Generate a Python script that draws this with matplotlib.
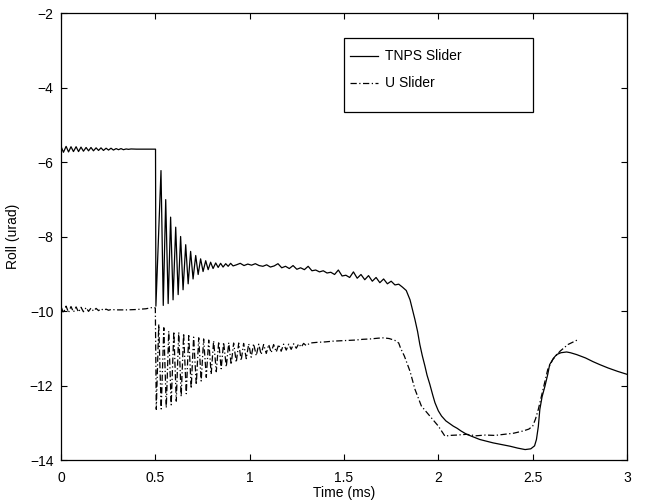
import matplotlib
matplotlib.use("Agg")
import matplotlib.pyplot as plt
from matplotlib.patches import Rectangle
from matplotlib.lines import Line2D

plt.rcParams['font.family'] = ['Liberation Sans', 'DejaVu Sans']

# ---------------- data ----------------
tnps_t = [
    0.000, 0.013, 0.027, 0.040, 0.053, 0.066, 0.080, 0.093, 0.106, 0.119,
    0.133, 0.146, 0.159, 0.172, 0.186, 0.199, 0.212, 0.225, 0.239, 0.252,
    0.265, 0.278, 0.292, 0.305, 0.318, 0.331, 0.345, 0.358, 0.371, 0.400,
    0.450, 0.501,
    0.503, 0.530, 0.542, 0.555, 0.568, 0.581, 0.594, 0.608, 0.621, 0.634,
    0.647, 0.661, 0.674, 0.687, 0.700, 0.714, 0.727, 0.740, 0.753, 0.767,
    0.780, 0.793, 0.806, 0.820, 0.833, 0.846, 0.859, 0.873, 0.886, 0.899,
    0.912,
    0.93, 0.95, 0.97, 0.99, 1.01, 1.03, 1.05, 1.07, 1.09, 1.11, 1.13, 1.15,
    1.17, 1.19, 1.21, 1.23, 1.25, 1.27, 1.29, 1.31, 1.33, 1.35, 1.37, 1.39,
    1.41, 1.43, 1.45, 1.47, 1.49, 1.51, 1.53, 1.55, 1.57, 1.59, 1.61, 1.63,
    1.65, 1.67, 1.69, 1.71, 1.73, 1.75, 1.77, 1.79,
    1.81, 1.83, 1.85, 1.86, 1.876, 1.89, 1.902, 1.915, 1.929, 1.94, 1.955,
    1.97, 1.982, 2.00, 2.017, 2.04, 2.06, 2.079, 2.10, 2.12, 2.15, 2.18,
    2.22, 2.26, 2.29, 2.33, 2.38, 2.42, 2.46, 2.49, 2.51, 2.52, 2.53, 2.538,
    2.55, 2.565, 2.58, 2.59, 2.61, 2.627, 2.65, 2.68, 2.70, 2.733, 2.78,
    2.82, 2.856, 2.90, 2.95, 3.00,
]
tnps_v = [
    -5.58, -5.74, -5.58, -5.73, -5.59, -5.72, -5.59, -5.72, -5.60, -5.71,
    -5.61, -5.70, -5.61, -5.70, -5.62, -5.69, -5.62, -5.69, -5.63, -5.68,
    -5.63, -5.68, -5.64, -5.67, -5.64, -5.67, -5.65, -5.66, -5.65, -5.655,
    -5.655, -5.655,
    -9.87, -6.23, -9.85, -7.01, -9.80, -7.48, -9.70, -7.75, -9.56, -8.00,
    -9.43, -8.22, -9.27, -8.40, -9.14, -8.51, -9.02, -8.60, -8.94, -8.65,
    -8.89, -8.69, -8.86, -8.71, -8.83, -8.72, -8.82, -8.73, -8.80, -8.72,
    -8.79,
    -8.76, -8.72, -8.78, -8.74, -8.77, -8.73, -8.78, -8.80, -8.76, -8.82,
    -8.79, -8.73, -8.84, -8.80, -8.86, -8.78, -8.88, -8.84, -8.89, -8.80,
    -8.92, -8.90, -8.95, -8.92, -8.98, -8.96, -9.02, -8.90, -9.06, -9.04,
    -9.10, -8.95, -9.12, -9.02, -9.16, -9.05, -9.20, -9.10, -9.24, -9.14,
    -9.27, -9.20, -9.30, -9.28,
    -9.36, -9.45, -9.70, -9.90, -10.23, -10.55, -10.90, -11.20, -11.48,
    -11.72, -11.97, -12.25, -12.46, -12.68, -12.82, -12.95, -13.02, -13.09,
    -13.15, -13.22, -13.31, -13.37, -13.45, -13.50, -13.54, -13.58, -13.63,
    -13.68, -13.72, -13.70, -13.62, -13.45, -13.10, -12.64, -12.30, -12.02,
    -11.70, -11.44, -11.27, -11.17, -11.12, -11.10, -11.12, -11.17, -11.26,
    -11.36, -11.44, -11.53, -11.62, -11.70,
]

u_t = [
    0.000, 0.013, 0.027, 0.040, 0.053, 0.066, 0.080, 0.093, 0.106, 0.119,
    0.133, 0.146, 0.159, 0.172, 0.186, 0.199, 0.212, 0.225, 0.239, 0.252,
    0.265, 0.300, 0.350, 0.400, 0.450, 0.490, 0.500,
    0.505, 0.518, 0.531, 0.545, 0.558, 0.571, 0.584, 0.598, 0.611, 0.624,
    0.637, 0.650, 0.664, 0.677, 0.690, 0.703, 0.717, 0.730, 0.743, 0.756,
    0.770, 0.783, 0.796, 0.809, 0.823, 0.836, 0.849, 0.862, 0.876, 0.889,
    0.902, 0.915, 0.929, 0.942, 0.955, 0.968, 0.982, 0.995, 1.008, 1.021,
    1.035, 1.048, 1.061, 1.074, 1.088, 1.101, 1.114, 1.127, 1.141, 1.154,
    1.167, 1.180, 1.194, 1.207, 1.220, 1.233, 1.247, 1.260, 1.273, 1.286,
    1.300,
    1.32, 1.36, 1.40, 1.44, 1.48, 1.52, 1.56, 1.60, 1.64, 1.68, 1.71, 1.74,
    1.77, 1.79,
    1.80, 1.82, 1.85, 1.876, 1.91, 1.955, 2.00, 2.035, 2.06, 2.10, 2.15,
    2.20, 2.25, 2.30, 2.35, 2.40, 2.45, 2.48, 2.50, 2.515, 2.53, 2.555,
    2.58, 2.607, 2.645, 2.687, 2.74,
]
u_v = [
    -9.88, -10.05, -9.87, -10.04, -9.88, -10.03, -9.89, -10.03, -9.90, -10.02,
    -9.91, -10.01, -9.92, -10.00, -9.93, -9.99, -9.94, -9.98, -9.95, -9.98,
    -9.96, -9.97, -9.97, -9.96, -9.94, -9.90, -9.92,
    -12.64, -10.36, -12.63, -10.45, -12.60, -10.54, -12.52, -10.55, -12.42,
    -10.57, -12.30, -10.60, -12.22, -10.66, -12.08, -10.70, -11.98, -10.72,
    -11.88, -10.75, -11.78, -10.78, -11.70, -10.80, -11.63, -10.82, -11.55,
    -10.84, -11.50, -10.85, -11.44, -10.86, -11.38, -10.86, -11.33, -10.87,
    -11.28, -10.88, -11.24, -10.88, -11.20, -10.89, -11.17, -10.90, -11.14,
    -10.90, -11.12, -10.90, -11.10, -10.90, -11.08, -10.89, -11.05, -10.89,
    -11.03, -10.88, -11.00, -10.88, -10.97, -10.87, -10.93,
    -10.86, -10.84, -10.83, -10.81, -10.80, -10.79, -10.78, -10.76, -10.75,
    -10.73, -10.72, -10.74, -10.79, -10.86,
    -11.00, -11.21, -11.62, -12.10, -12.55, -12.82, -13.09, -13.36, -13.34,
    -13.33, -13.31, -13.35, -13.33, -13.34, -13.31, -13.28, -13.22, -13.17,
    -13.09, -12.90, -12.64, -12.10, -11.57, -11.30, -11.08, -10.90, -10.77,
]

series_labels = ["TNPS Slider", "U Slider"]
x_ticks = [0, 0.5, 1, 1.5, 2, 2.5, 3]
x_tick_labels = ["0", "0.5", "1", "1.5", "2", "2.5", "3"]
y_ticks = [-14, -12, -10, -8, -6, -4, -2]
y_tick_labels = ["\u221214", "\u221212", "\u221210", "\u22128", "\u22126", "\u22124", "\u22122"]

# ---------------- figure ----------------
fig = plt.figure(figsize=(6.45, 5.04), dpi=100)
ax = fig.add_axes([61/645, 44/504, 566/645, 447/504])

LW = 0.9
DASH = (5, 2, 1, 2)
ax.plot(tnps_t, tnps_v, color='black', lw=LW, label=series_labels[0])
ax.plot(u_t, u_v, color='black', lw=LW, dashes=DASH, label=series_labels[1])

ax.set_xlim(0, 3)
ax.set_ylim(-14, -2)
ax.set_xticks(x_ticks)
ax.set_xticklabels(x_tick_labels)
ax.set_yticks(y_ticks)
ax.set_yticklabels(y_tick_labels)
ax.tick_params(direction='in', top=True, right=True, length=4.5, width=0.8,
               labelsize=10)
ax.tick_params(axis='x', pad=8)
ax.tick_params(axis='y', pad=5.5)
for s in ax.spines.values():
    s.set_linewidth(0.9)

ax.set_xlabel("Time (ms)", fontsize=10, labelpad=1)
ax.set_ylabel("Roll (urad)", fontsize=10, labelpad=7)

# legend box drawn in axes fraction coordinates (MATLAB-style)
tr = ax.transAxes
ax.add_patch(Rectangle((0.500, 0.779), 0.334, 0.165, transform=tr,
                       facecolor='white', edgecolor='black', lw=0.9,
                       zorder=5))
ax.add_line(Line2D([0.511, 0.560], [0.904, 0.904], transform=tr,
                   color='black', lw=LW, zorder=6))
ax.add_line(Line2D([0.511, 0.560], [0.843, 0.843], transform=tr,
                   color='black', lw=LW, dashes=DASH, zorder=6))
ax.text(0.572, 0.904, series_labels[0], transform=tr, fontsize=10,
        va='center', ha='left', zorder=7)
ax.text(0.572, 0.843, series_labels[1], transform=tr, fontsize=10,
        va='center', ha='left', zorder=7)

fig.savefig("out.png", dpi=100)
